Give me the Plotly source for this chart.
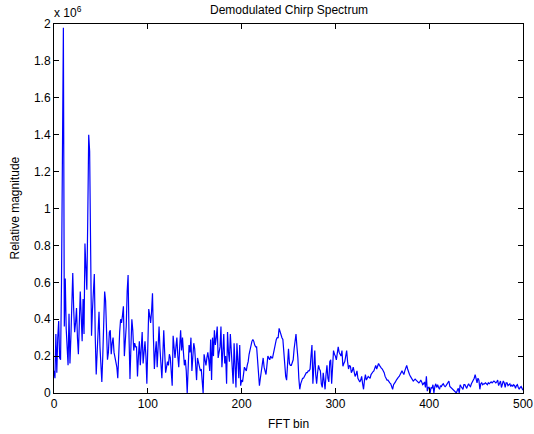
import plotly.graph_objects as go

# FFT bin index 0..500 and relative magnitude (in units of 1e6)
fft_bin = list(range(501))
scale_exponent = 6
magnitude = [
    # 0-59
    0.12, 0.08, 0.32, 0.11, 0.30, 0.39, 0.19, 0.18, 0.60, 1.40,
    1.98, 0.36, 0.62, 0.35, 0.24, 0.15, 0.43, 0.16, 0.30, 0.46,
    0.65, 0.45, 0.33, 0.38, 0.46, 0.30, 0.21, 0.38, 0.55, 0.42,
    0.28, 0.51, 0.32, 0.81, 0.62, 0.56, 0.95, 1.40, 1.31, 0.80,
    0.31, 0.45, 0.58, 0.645, 0.30, 0.10, 0.22, 0.35, 0.44, 0.25,
    0.10, 0.06, 0.20, 0.38, 0.55, 0.50, 0.30, 0.18, 0.22, 0.33,
    # 60-111
    0.34, 0.21, 0.27, 0.30, 0.22, 0.19, 0.16, 0.14, 0.08, 0.27,
    0.33, 0.40, 0.38, 0.42, 0.47, 0.20, 0.28, 0.36, 0.55, 0.64,
    0.30, 0.076, 0.25, 0.40, 0.34, 0.23, 0.27, 0.25, 0.25, 0.09,
    0.20, 0.28, 0.15, 0.24, 0.33, 0.16, 0.22, 0.28, 0.20, 0.05,
    0.25, 0.455, 0.42, 0.38, 0.44, 0.54, 0.30, 0.13, 0.22, 0.28,
    0.14, 0.22,
    # 112-199
    0.36, 0.24, 0.14, 0.08, 0.20, 0.34, 0.22, 0.11, 0.14, 0.17,
    0.15, 0.21, 0.19, 0.12, 0.04, 0.31, 0.22, 0.19, 0.25, 0.30,
    0.20, 0.14, 0.25, 0.34, 0.23, 0.30, 0.22, 0.15, 0.18, 0.12,
    0.00, 0.10, 0.26, 0.22, 0.30, 0.12, 0.20, 0.27, 0.24, 0.15,
    0.07, 0.19, 0.16, 0.14, 0.12, 0.13, 0.08, 0.00, 0.21, 0.18,
    0.15, 0.19, 0.22, 0.18, 0.12, 0.29, 0.07, 0.30, 0.20, 0.34,
    0.26, 0.30, 0.36, 0.19, 0.22, 0.25, 0.36, 0.14, 0.22, 0.32,
    0.16, 0.20, 0.05, 0.33, 0.22, 0.17, 0.32, 0.21, 0.12, 0.05,
    0.27, 0.15, 0.03, 0.27, 0.15, 0.08, 0.26, 0.04,
    # 200-299
    0.07, 0.06, 0.10, 0.14, 0.13, 0.12, 0.15, 0.17, 0.21, 0.24,
    0.27, 0.28, 0.29, 0.28, 0.26, 0.25, 0.25, 0.18, 0.12, 0.04,
    0.08, 0.12, 0.16, 0.19, 0.14, 0.12, 0.10, 0.15, 0.20, 0.19,
    0.18, 0.20, 0.19, 0.19, 0.22, 0.25, 0.27, 0.29, 0.30, 0.30,
    0.35, 0.33, 0.31, 0.30, 0.29, 0.20, 0.13, 0.09, 0.07, 0.18,
    0.24, 0.16, 0.15, 0.15, 0.17, 0.18, 0.24, 0.30, 0.32, 0.25,
    0.19, 0.08, 0.02, 0.05, 0.07, 0.08, 0.08, 0.09, 0.10, 0.11,
    0.11, 0.12, 0.12, 0.13, 0.20, 0.26, 0.05, 0.15, 0.23, 0.10,
    0.05, 0.11, 0.15, 0.13, 0.12, 0.05, 0.03, 0.11, 0.06, 0.02,
    0.10, 0.15, 0.08, 0.06, 0.17, 0.18, 0.05, 0.15, 0.23, 0.21,
    # 300-399
    0.20, 0.18, 0.22, 0.25, 0.22, 0.21, 0.20, 0.23, 0.145, 0.16,
    0.17, 0.20, 0.23, 0.17, 0.13, 0.15, 0.145, 0.11, 0.12, 0.14,
    0.11, 0.09, 0.10, 0.12, 0.08, 0.07, 0.06, 0.07, 0.09, 0.05,
    0.02, 0.07, 0.10, 0.07, 0.08, 0.09, 0.085, 0.08, 0.10, 0.11,
    0.115, 0.12, 0.14, 0.15, 0.13, 0.15, 0.16, 0.15, 0.14, 0.135,
    0.13, 0.12, 0.11, 0.09, 0.08, 0.07, 0.07, 0.06, 0.055, 0.05,
    0.035, 0.02, 0.045, 0.05, 0.06, 0.07, 0.08, 0.085, 0.09, 0.10,
    0.11, 0.12, 0.11, 0.10, 0.12, 0.135, 0.15, 0.13, 0.11, 0.10,
    0.09, 0.08, 0.07, 0.065, 0.07, 0.075, 0.07, 0.065, 0.06, 0.055,
    0.06, 0.07, 0.06, 0.045, 0.05, 0.06, 0.03, 0.09, 0.01, 0.03,
    # 400-500
    0.03, 0.00, 0.03, 0.025, 0.045, 0.00, 0.035, 0.05, 0.03, 0.045,
    0.03, 0.02, 0.04, 0.035, 0.045, 0.05, 0.04, 0.035, 0.04, 0.05,
    0.06, 0.065, 0.035, 0.03, 0.025, 0.02, 0.02, 0.01, 0.01, 0.00,
    0.015, 0.025, 0.00, 0.045, 0.035, 0.03, 0.02, 0.045, 0.045, 0.035,
    0.025, 0.04, 0.05, 0.04, 0.035, 0.05, 0.06, 0.065, 0.08, 0.10,
    0.075, 0.055, 0.08, 0.07, 0.02, 0.05, 0.055, 0.045, 0.05, 0.05,
    0.055, 0.05, 0.045, 0.055, 0.05, 0.055, 0.06, 0.055, 0.06, 0.065,
    0.06, 0.055, 0.06, 0.07, 0.04, 0.06, 0.065, 0.03, 0.05, 0.065,
    0.055, 0.03, 0.055, 0.055, 0.04, 0.045, 0.05, 0.035, 0.045, 0.035,
    0.045, 0.04, 0.025, 0.04, 0.045, 0.03, 0.02, 0.03, 0.035, 0.025,
    0.015,
]

x_ticks = [0, 100, 200, 300, 400, 500]
y_ticks = [0, 0.2, 0.4, 0.6, 0.8, 1.0, 1.2, 1.4, 1.6, 1.8, 2.0]
y_tick_labels = ["0", "0.2", "0.4", "0.6", "0.8", "1", "1.2", "1.4", "1.6", "1.8", "2"]

title_text = "Demodulated Chirp Spectrum"
x_label = "FFT bin"
y_label = "Relative magnitude"

FONT = "Liberation Sans, Arial, Helvetica, sans-serif"
FS = 12

fig = go.Figure()
fig.add_trace(go.Scatter(
    x=fft_bin, y=magnitude, mode="lines",
    line=dict(color="#0000FF", width=1.2),
    hoverinfo="skip",
))

axis_common = dict(
    showline=True, linecolor="black", linewidth=1, mirror="ticks",
    ticks="inside", ticklen=5, tickcolor="black", tickwidth=1,
    showgrid=False, zeroline=False, automargin=False,
    tickfont=dict(family=FONT, size=FS, color="black"),
)

fig.update_layout(
    width=534, height=434,
    margin=dict(l=54, r=11, t=24, b=41, pad=0),
    paper_bgcolor="white", plot_bgcolor="white",
    showlegend=False,
    font=dict(family=FONT, size=FS, color="black"),
    xaxis=dict(range=[0, 500], tickvals=x_ticks, **axis_common),
    yaxis=dict(range=[0, 2], tickvals=y_ticks, ticktext=y_tick_labels, **axis_common),
    annotations=[
        dict(text=title_text, x=0.5, y=1, xref="paper", yref="paper",
             xanchor="center", yanchor="bottom", yshift=5, showarrow=False,
             font=dict(family=FONT, size=FS, color="black")),
        dict(text="x 10<sup>%d</sup>" % scale_exponent, x=0, y=1, xref="paper", yref="paper",
             xanchor="left", yanchor="bottom", yshift=2, xshift=-2, showarrow=False,
             font=dict(family=FONT, size=FS, color="black")),
        dict(text=x_label, x=0.5, y=0, xref="paper", yref="paper",
             xanchor="center", yanchor="middle", yshift=-31, showarrow=False,
             font=dict(family=FONT, size=FS, color="black")),
        dict(text=y_label, x=0, y=0.5, xref="paper", yref="paper",
             xanchor="center", yanchor="middle", xshift=-40, textangle=-90,
             showarrow=False, font=dict(family=FONT, size=FS, color="black")),
    ],
)

fig.write_html(
    "out.html",
    config={"displayModeBar": False},
    post_script="document.body.style.margin='0';document.body.style.padding='0';"
                "document.documentElement.style.overflow='hidden';",
)
